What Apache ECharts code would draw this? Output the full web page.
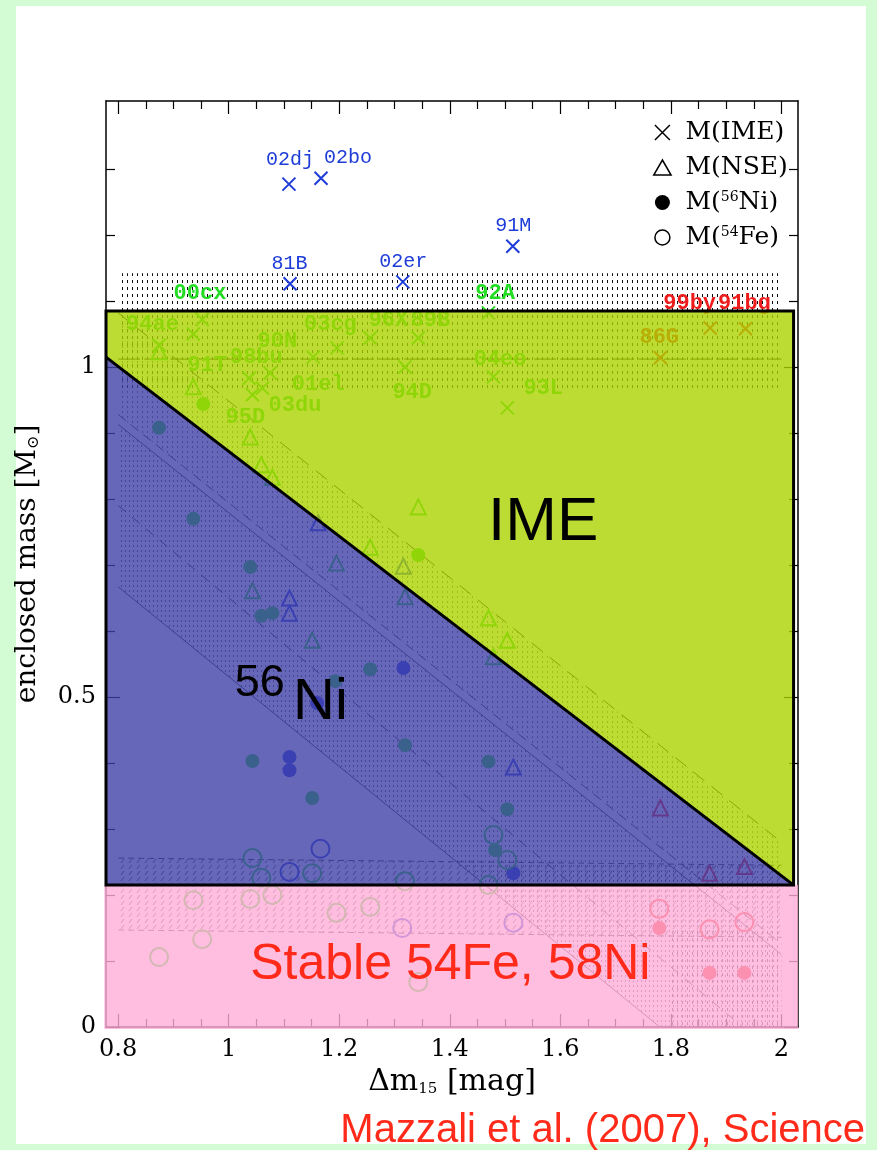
<!DOCTYPE html>
<html>
<head>
<meta charset="utf-8">
<script src="https://cdn.jsdelivr.net/npm/echarts@6/dist/echarts.min.js"></script>
<style>
  html, body { margin: 0; padding: 0; background: #d4fcd4; }
  #chart { width: 877px; height: 1150px; }
</style>
</head>
<body>
<div id="chart"></div>
<script>
// ---- axis ticks ----
const xMajorTicks = [0.8, 1.0, 1.2, 1.4, 1.6, 1.8, 2.0];
const xMinorTicks = [0.85, 0.9, 0.95, 1.05, 1.1, 1.15, 1.25, 1.3, 1.35, 1.45, 1.5, 1.55, 1.65, 1.7, 1.75, 1.85, 1.9, 1.95];
const yMajorTicks = [0, 0.5, 1.0];
const yMinorTicks = [0.1, 0.2, 0.3, 0.4, 0.6, 0.7, 0.8, 0.9, 1.1, 1.2, 1.3];

// ---- M(IME) : crosses ----
const imeGreen = [[0.874,1.033],[0.936,1.050],[0.952,1.072],[1.037,0.983],[1.075,0.991],[1.043,0.958],[1.061,0.968],
  [1.153,1.015],[1.196,1.029],[1.256,1.044],[1.343,1.044],[1.319,1.000],[1.479,0.985],[1.504,0.938],[1.470,1.082]];
const imeBlue = [[1.109,1.277],[1.167,1.286],[1.111,1.126],[1.315,1.129],[1.514,1.183]];
const imeRed = [[1.781,1.014],[1.871,1.059],[1.935,1.058]];

// ---- M(NSE) : open triangles ----
const nseGreen = [[0.874,1.023],[0.936,0.970],[1.039,0.894],[1.059,0.852],[1.079,0.833],[1.343,0.788],[1.256,0.727],
  [1.195,0.703],[1.043,0.661],[1.151,0.586],[1.319,0.652],[1.470,0.620],[1.504,0.586],[1.479,0.561]];
const nseBlue = [[1.162,0.764],[1.316,0.698],[1.110,0.650],[1.110,0.627],[1.515,0.394]];
const nseRed = [[1.781,0.332],[1.870,0.233],[1.933,0.243]];

// ---- M(56Ni) : filled circles ----
const niGreen = [[0.874,0.908],[0.954,0.944],[0.936,0.770],[1.039,0.697],[1.059,0.623],[1.079,0.627],[1.256,0.542],
  [1.193,0.524],[1.043,0.403],[1.151,0.347],[1.319,0.427],[1.343,0.715],[1.470,0.402],[1.504,0.330],[1.482,0.268]];
const niBlue = [[1.316,0.544],[1.110,0.409],[1.110,0.389],[1.160,0.491],[1.515,0.233]];
const niRed = [[1.779,0.150],[1.870,0.082],[1.933,0.082]];

// ---- M(54Fe) : open circles ----
const feGreen = [[1.043,0.256],[1.059,0.226],[1.151,0.233],[1.319,0.221],[0.936,0.192],[1.039,0.194],[1.079,0.200],
  [1.195,0.173],[1.256,0.182],[0.952,0.133],[0.874,0.106],[1.343,0.068],[1.479,0.291],[1.504,0.253],[1.470,0.215]];
const feBlue = [[1.110,0.235],[1.166,0.270],[1.314,0.150],[1.515,0.158]];
const feRed = [[1.779,0.179],[1.870,0.148],[1.933,0.159]];

// ---- supernova names ----
const labelsBlue = [[1.111,1.314,'02dj'],[1.216,1.317,'02bo'],[1.110,1.156,'81B'],[1.316,1.159,'02er'],[1.515,1.214,'91M']];
const labelsGreen = [[0.948,1.111,'00cx'],[1.482,1.112,'92A'],[0.862,1.064,'94ae'],[1.184,1.065,'03cg'],[1.289,1.071,'96X'],
  [1.365,1.071,'89B'],[1.088,1.038,'90N'],[1.050,1.014,'98bu'],[0.961,1.002,'91T'],[1.162,0.973,'01el'],[1.120,0.942,'03du'],
  [1.030,0.923,'95D'],[1.332,0.961,'94D'],[1.491,1.012,'04eo'],[1.569,0.968,'93L']];
const labelsRed = [[1.779,1.044,'86G'],[1.834,1.097,'99by'],[1.933,1.097,'91bg']];

// ---- zone boundaries ----
const zoneLeft = 0.778, zoneRight = 2.022, imeTop = 1.085, stableTop = 0.215, niTopLeft = 1.015;

// ---- fit bands ----
const imeBand = [[0.8,0.962],[2.0,0.962],[2.0,1.142],[0.8,1.142]];
const imeMean = [[0.8,1.012],[2.0,1.012]];
const nseUpper = [[0.8,1.082],[2.0,0.280]];
const nseLower = [[0.8,0.928],[2.0,0.126]];
const niUpper = [[0.8,0.913],[2.0,0.110]];
const niMid = [[0.8,0.790],[1.93,0.0]];
const niLower = [[0.8,0.667],[1.78,0.0]];
const feUpper = [[0.8,0.256],[2.0,0.245]];
const feLower = [[0.8,0.147],[2.0,0.136]];
const redFeBox = [[1.795,0.0],[1.995,0.0],[1.995,0.145],[1.795,0.145]];

// ---- annotation texts ----
const zoneTexts = [[1.569,0.764,'IME'],[1.166,0.491,'Ni'],[1.401,0.094,'Stable 54Fe, 58Ni']];
const isotopeMark = [[1.056,0.520,'56']];

const GREEN = '#22dd22', BLUE = '#1e3cd8', RED = '#ee1c1c';
const SERIF = '"DejaVu Serif", "Liberation Serif", serif';

function makeTile(w, h, draw) {
  const c = document.createElement('canvas');
  c.width = w; c.height = h;
  draw(c.getContext('2d'));
  return c;
}
const vDashTile = makeTile(5, 7, g => { g.fillStyle = '#000'; g.fillRect(2, 0, 1, 3); });
const dotTile = makeTile(5, 5, g => { g.fillStyle = '#000'; g.fillRect(2, 1, 1, 2); });
const fineDashTile = makeTile(4, 5, g => { g.fillStyle = '#000'; g.fillRect(1, 0, 1, 2); });
const slantTile = makeTile(8, 6, g => {
  g.strokeStyle = '#000'; g.lineWidth = 1;
  g.beginPath(); g.moveTo(1, 5); g.lineTo(4, 1); g.stroke();
});
const pattern = tile => ({ image: tile, repeat: 'repeat' });

function polygonSeries(points, style, z) {
  return {
    type: 'custom', silent: true, z, clip: false,
    data: [points[0]],
    renderItem: (p, api) => ({ type: 'polygon', shape: { points: points.map(pt => api.coord(pt)) }, style })
  };
}
function lineSeries(points, style, z) {
  return {
    type: 'custom', silent: true, z, clip: false,
    data: [points[0]],
    renderItem: (p, api) => ({ type: 'polyline', shape: { points: points.map(pt => api.coord(pt)) }, style: Object.assign({ fill: null }, style) })
  };
}
function textSeries(items, font, color, z) {
  return {
    type: 'custom', silent: true, z, clip: false,
    data: items.map(d => [d[0], d[1]]),
    renderItem: (p, api) => {
      const d = items[p.dataIndex];
      const c = api.coord([d[0], d[1]]);
      return { type: 'text', x: c[0], y: c[1], style: { text: d[2], font, fill: color, align: 'center', verticalAlign: 'middle' } };
    }
  };
}
const crossPath = 'path://M0,0L10,10M10,0L0,10';
const trianglePath = 'path://M5,0L10,8.66L0,8.66Z';
function markerSeries(name, data, symbol, size, color, filled) {
  return {
    type: 'scatter', name, data, symbol, symbolSize: size, silent: true, z: 2,
    itemStyle: filled ? { color, opacity: 1 } : { color: 'rgba(0,0,0,0)', borderColor: color, borderWidth: 2, opacity: 1 }
  };
}

const labelFont = c => (c === BLUE ? '20px' : 'bold 22px') + ' "Liberation Mono", "DejaVu Sans Mono", monospace';

const series = [
  // hatched fit bands
  polygonSeries(imeBand, { fill: pattern(vDashTile), opacity: 0.95 }, 1),
  polygonSeries([nseUpper[0], nseUpper[1], nseLower[1], nseLower[0]], { fill: pattern(dotTile), opacity: 0.6 }, 1),
  polygonSeries([niUpper[0], niUpper[1], [2.0, 0.0], niLower[1], niLower[0]], { fill: pattern(fineDashTile), opacity: 0.65 }, 1),
  polygonSeries([feUpper[0], feUpper[1], feLower[1], feLower[0]], { fill: pattern(slantTile), opacity: 0.7 }, 1),
  polygonSeries(redFeBox, { fill: pattern(vDashTile), opacity: 0.8 }, 1),
  lineSeries(imeMean, { stroke: '#000', lineWidth: 1, lineDash: [22, 4] }, 1),
  lineSeries(nseUpper, { stroke: '#000', lineWidth: 1, lineDash: [14, 9] }, 1),
  lineSeries(nseLower, { stroke: '#000', lineWidth: 0.8, lineDash: [10, 6] }, 1),
  lineSeries(niUpper, { stroke: '#000', lineWidth: 0.8 }, 1),
  lineSeries(niMid, { stroke: '#000', lineWidth: 0.8, lineDash: [10, 8] }, 1),
  lineSeries(niLower, { stroke: '#000', lineWidth: 0.8 }, 1),
  lineSeries(feUpper, { stroke: '#000', lineWidth: 0.8, lineDash: [6, 4] }, 1),
  lineSeries(feLower, { stroke: '#000', lineWidth: 0.8, lineDash: [6, 4] }, 1),

  // measured masses
  markerSeries('M(IME)', imeGreen, crossPath, 13, GREEN, false),
  markerSeries('IME b', imeBlue, crossPath, 13, BLUE, false),
  markerSeries('IME r', imeRed, crossPath, 13, RED, false),
  markerSeries('M(NSE)', nseGreen, trianglePath, 15, GREEN, false),
  markerSeries('NSE b', nseBlue, trianglePath, 15, BLUE, false),
  markerSeries('NSE r', nseRed, trianglePath, 15, RED, false),
  markerSeries('M(56Ni)', niGreen, 'circle', 14, GREEN, true),
  markerSeries('Ni b', niBlue, 'circle', 14, BLUE, true),
  markerSeries('Ni r', niRed, 'circle', 14, RED, true),
  markerSeries('M(54Fe)', feGreen, 'circle', 18, GREEN, false),
  markerSeries('Fe b', feBlue, 'circle', 18, BLUE, false),
  markerSeries('Fe r', feRed, 'circle', 18, RED, false),

  textSeries(labelsBlue, labelFont(BLUE), BLUE, 2),
  textSeries(labelsGreen, labelFont(GREEN), GREEN, 2),
  textSeries(labelsRed, labelFont(RED), RED, 2),

  // burning zones (translucent)
  polygonSeries([[zoneLeft, niTopLeft], [zoneLeft, imeTop], [zoneRight, imeTop], [zoneRight, stableTop]],
    { fill: 'rgba(171,211,1,0.8)' }, 3),
  polygonSeries([[zoneLeft, niTopLeft], [zoneRight, stableTop], [zoneLeft, stableTop]],
    { fill: 'rgba(65,65,167,0.8)' }, 3),
  polygonSeries([[0.775, -0.003], [2.03, -0.003], [2.03, stableTop], [0.775, stableTop]],
    { fill: 'rgba(255,174,215,0.8)' }, 3),

  // zone outlines
  polygonSeries([[zoneLeft, stableTop], [zoneLeft, imeTop], [zoneRight, imeTop], [zoneRight, stableTop]],
    { fill: null, stroke: '#000', lineWidth: 3 }, 4),
  lineSeries([[zoneLeft, niTopLeft], [zoneRight, stableTop]], { stroke: '#000', lineWidth: 3 }, 4),

  // zone names
  textSeries(zoneTexts.slice(0, 1), '62px "Liberation Sans", Arial, sans-serif', '#000', 5),
  textSeries(zoneTexts.slice(1, 2), '58px "Liberation Sans", Arial, sans-serif', '#000', 5),
  textSeries(isotopeMark, '45px "Liberation Sans", Arial, sans-serif', '#000', 5),
  textSeries(zoneTexts.slice(2, 3), '50px "Liberation Sans", Arial, sans-serif', '#ff2a1a', 5)
];

const tickLabelStyle = { fontFamily: SERIF, fontSize: 24, color: '#000' };
const fmt = v => String(+(+v).toFixed(2));

function xAxisDef(position, ticks, len, withLabels, withLine) {
  return {
    type: 'value', position, min: 0.778, max: 2.03,
    axisLine: { show: withLine, onZero: false, lineStyle: { color: '#000', width: 1.5 } },
    axisTick: { show: true, inside: true, length: len, customValues: ticks, lineStyle: { color: '#000', width: 1.2 } },
    axisLabel: withLabels ? Object.assign({ show: true, customValues: ticks, margin: 11, formatter: fmt }, tickLabelStyle) : { show: false },
    splitLine: { show: false }
  };
}
function yAxisDef(position, ticks, len, withLabels, withLine) {
  return {
    type: 'value', position, min: 0, max: 1.403,
    axisLine: { show: withLine, onZero: false, lineStyle: { color: '#000', width: 1.5 } },
    axisTick: { show: true, inside: true, length: len, customValues: ticks, lineStyle: { color: '#000', width: 1.2 } },
    axisLabel: withLabels ? Object.assign({ show: true, customValues: ticks, margin: 10, formatter: fmt }, tickLabelStyle) : { show: false },
    splitLine: { show: false }
  };
}

const xAxes = [
  xAxisDef('bottom', xMajorTicks, 13, true, true),
  xAxisDef('bottom', xMinorTicks, 8, false, false),
  xAxisDef('top', xMajorTicks, 13, false, true),
  xAxisDef('top', xMinorTicks, 8, false, false)
];
Object.assign(xAxes[0], {
  name: 'Δm{sub|15} [mag]', nameLocation: 'middle', nameGap: 40,
  nameTextStyle: { fontFamily: SERIF, fontSize: 30, color: '#000', rich: { sub: { fontFamily: SERIF, fontSize: 15, padding: [14, 0, 0, 0] } } }
});
const yAxes = [
  yAxisDef('left', yMajorTicks, 14, true, true),
  yAxisDef('left', yMinorTicks, 9, false, false),
  yAxisDef('right', yMajorTicks, 14, false, true),
  yAxisDef('right', yMinorTicks, 9, false, false)
];
Object.assign(yAxes[0], {
  name: 'enclosed mass [M{sub|⊙}]', nameLocation: 'middle', nameRotate: 90, nameGap: 64,
  nameTextStyle: { fontFamily: SERIF, fontSize: 28, color: '#000', rich: { sub: { fontFamily: SERIF, fontSize: 16, padding: [12, 0, 0, 0] } } }
});

const legendIcons = {
  'M(IME)': { icon: crossPath, itemStyle: { color: 'rgba(0,0,0,0)', borderColor: '#000', borderWidth: 1.5 } },
  'M(NSE)': { icon: trianglePath, itemStyle: { color: 'rgba(0,0,0,0)', borderColor: '#000', borderWidth: 1.5 } },
  'M(56Ni)': { icon: 'circle', itemStyle: { color: '#000', borderWidth: 0 } },
  'M(54Fe)': { icon: 'circle', itemStyle: { color: 'rgba(0,0,0,0)', borderColor: '#000', borderWidth: 1.5 } }
};

const chart = echarts.init(document.getElementById('chart'));
chart.setOption({
  animation: false,
  backgroundColor: '#d4fcd4',
  grid: { left: 106, top: 101, width: 692, height: 926, containLabel: false, outerBoundsMode: 'none' },
  xAxis: xAxes,
  yAxis: yAxes,
  legend: {
    orient: 'vertical', left: 648, top: 115, itemWidth: 36, itemHeight: 15, itemGap: 10,
    selectedMode: false,
    data: Object.keys(legendIcons).map(n => Object.assign({ name: n }, legendIcons[n])),
    formatter: n => n.replace('56', '{s|56}').replace('54', '{s|54}'),
    textStyle: { fontFamily: SERIF, fontSize: 25, color: '#000', rich: { s: { fontFamily: SERIF, fontSize: 14, padding: [0, 0, 10, 0] } } }
  },
  graphic: [
    { type: 'rect', z: -10, silent: true, shape: { x: 16, y: 6, width: 850, height: 1138 }, style: { fill: '#fff' } },
    { type: 'text', z: 10, silent: true, x: 865, y: 1131,
      style: { text: 'Mazzali et al. (2007), Science', font: '40px "Liberation Sans", Arial, sans-serif', fill: '#ff2a1a', align: 'right', verticalAlign: 'middle' } }
  ],
  series
});
</script>
</body>
</html>
